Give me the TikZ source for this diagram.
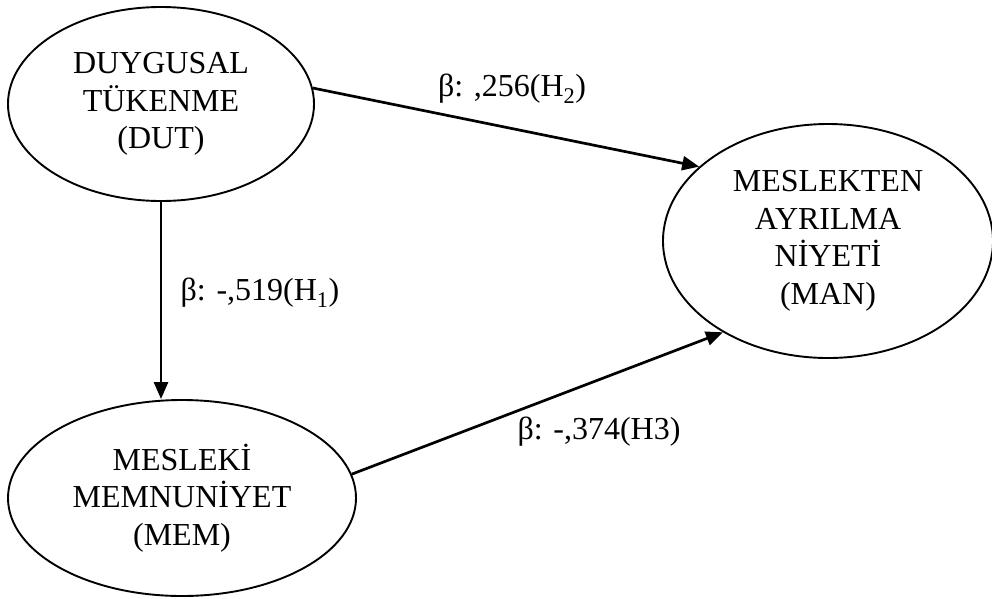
\documentclass[tikz,border=0pt]{standalone}
\usepackage{fontspec}
\setmainfont{Liberation Serif}
\usetikzlibrary{shapes.geometric,arrows.meta}
\begin{document}
\begin{tikzpicture}[x=1pt,y=-1pt,
  construct/.style={ellipse, draw, line width=1.9pt, inner sep=0pt, align=center,
    font=\fontsize{32}{37.5}\selectfont},
  path/.style={line width=2.7pt, -{Triangle[length=17pt,width=14pt]}},
  coef/.style={font=\fontsize{32}{37.5}\selectfont, inner sep=0pt}]
  \useasboundingbox (0,0) rectangle (992,598);

  % latent constructs
  \node[construct, minimum width=306pt, minimum height=194pt] (dut) at (161,104)
    {DUYGUSAL\\TÜKENME\\(DUT)};
  \node[construct, minimum width=348pt, minimum height=196pt] (mem) at (182,498)
    {MESLEKİ\\MEMNUNİYET\\(MEM)};
  \node[construct, minimum width=330pt, minimum height=234pt] (man) at (828,241)
    {MESLEKTEN\\AYRILMA\\NİYETİ\\(MAN)};

  % structural paths
  \draw[path] (dut.6) -- (man.150);
  \draw[path] (dut.south) -- (dut.south |- mem.north);
  \draw[path] (mem.8) -- (man.221);

  % path coefficients
  \node[coef] (b2) at (512,89) {β: ,256(H\textsubscript{2})};
  \node[coef] (b1) at (260,293) {β: -,519(H\textsubscript{1})};
  \node[coef] (b3) at (599,432) {β: -,374(H3)};
\end{tikzpicture}
\end{document}
